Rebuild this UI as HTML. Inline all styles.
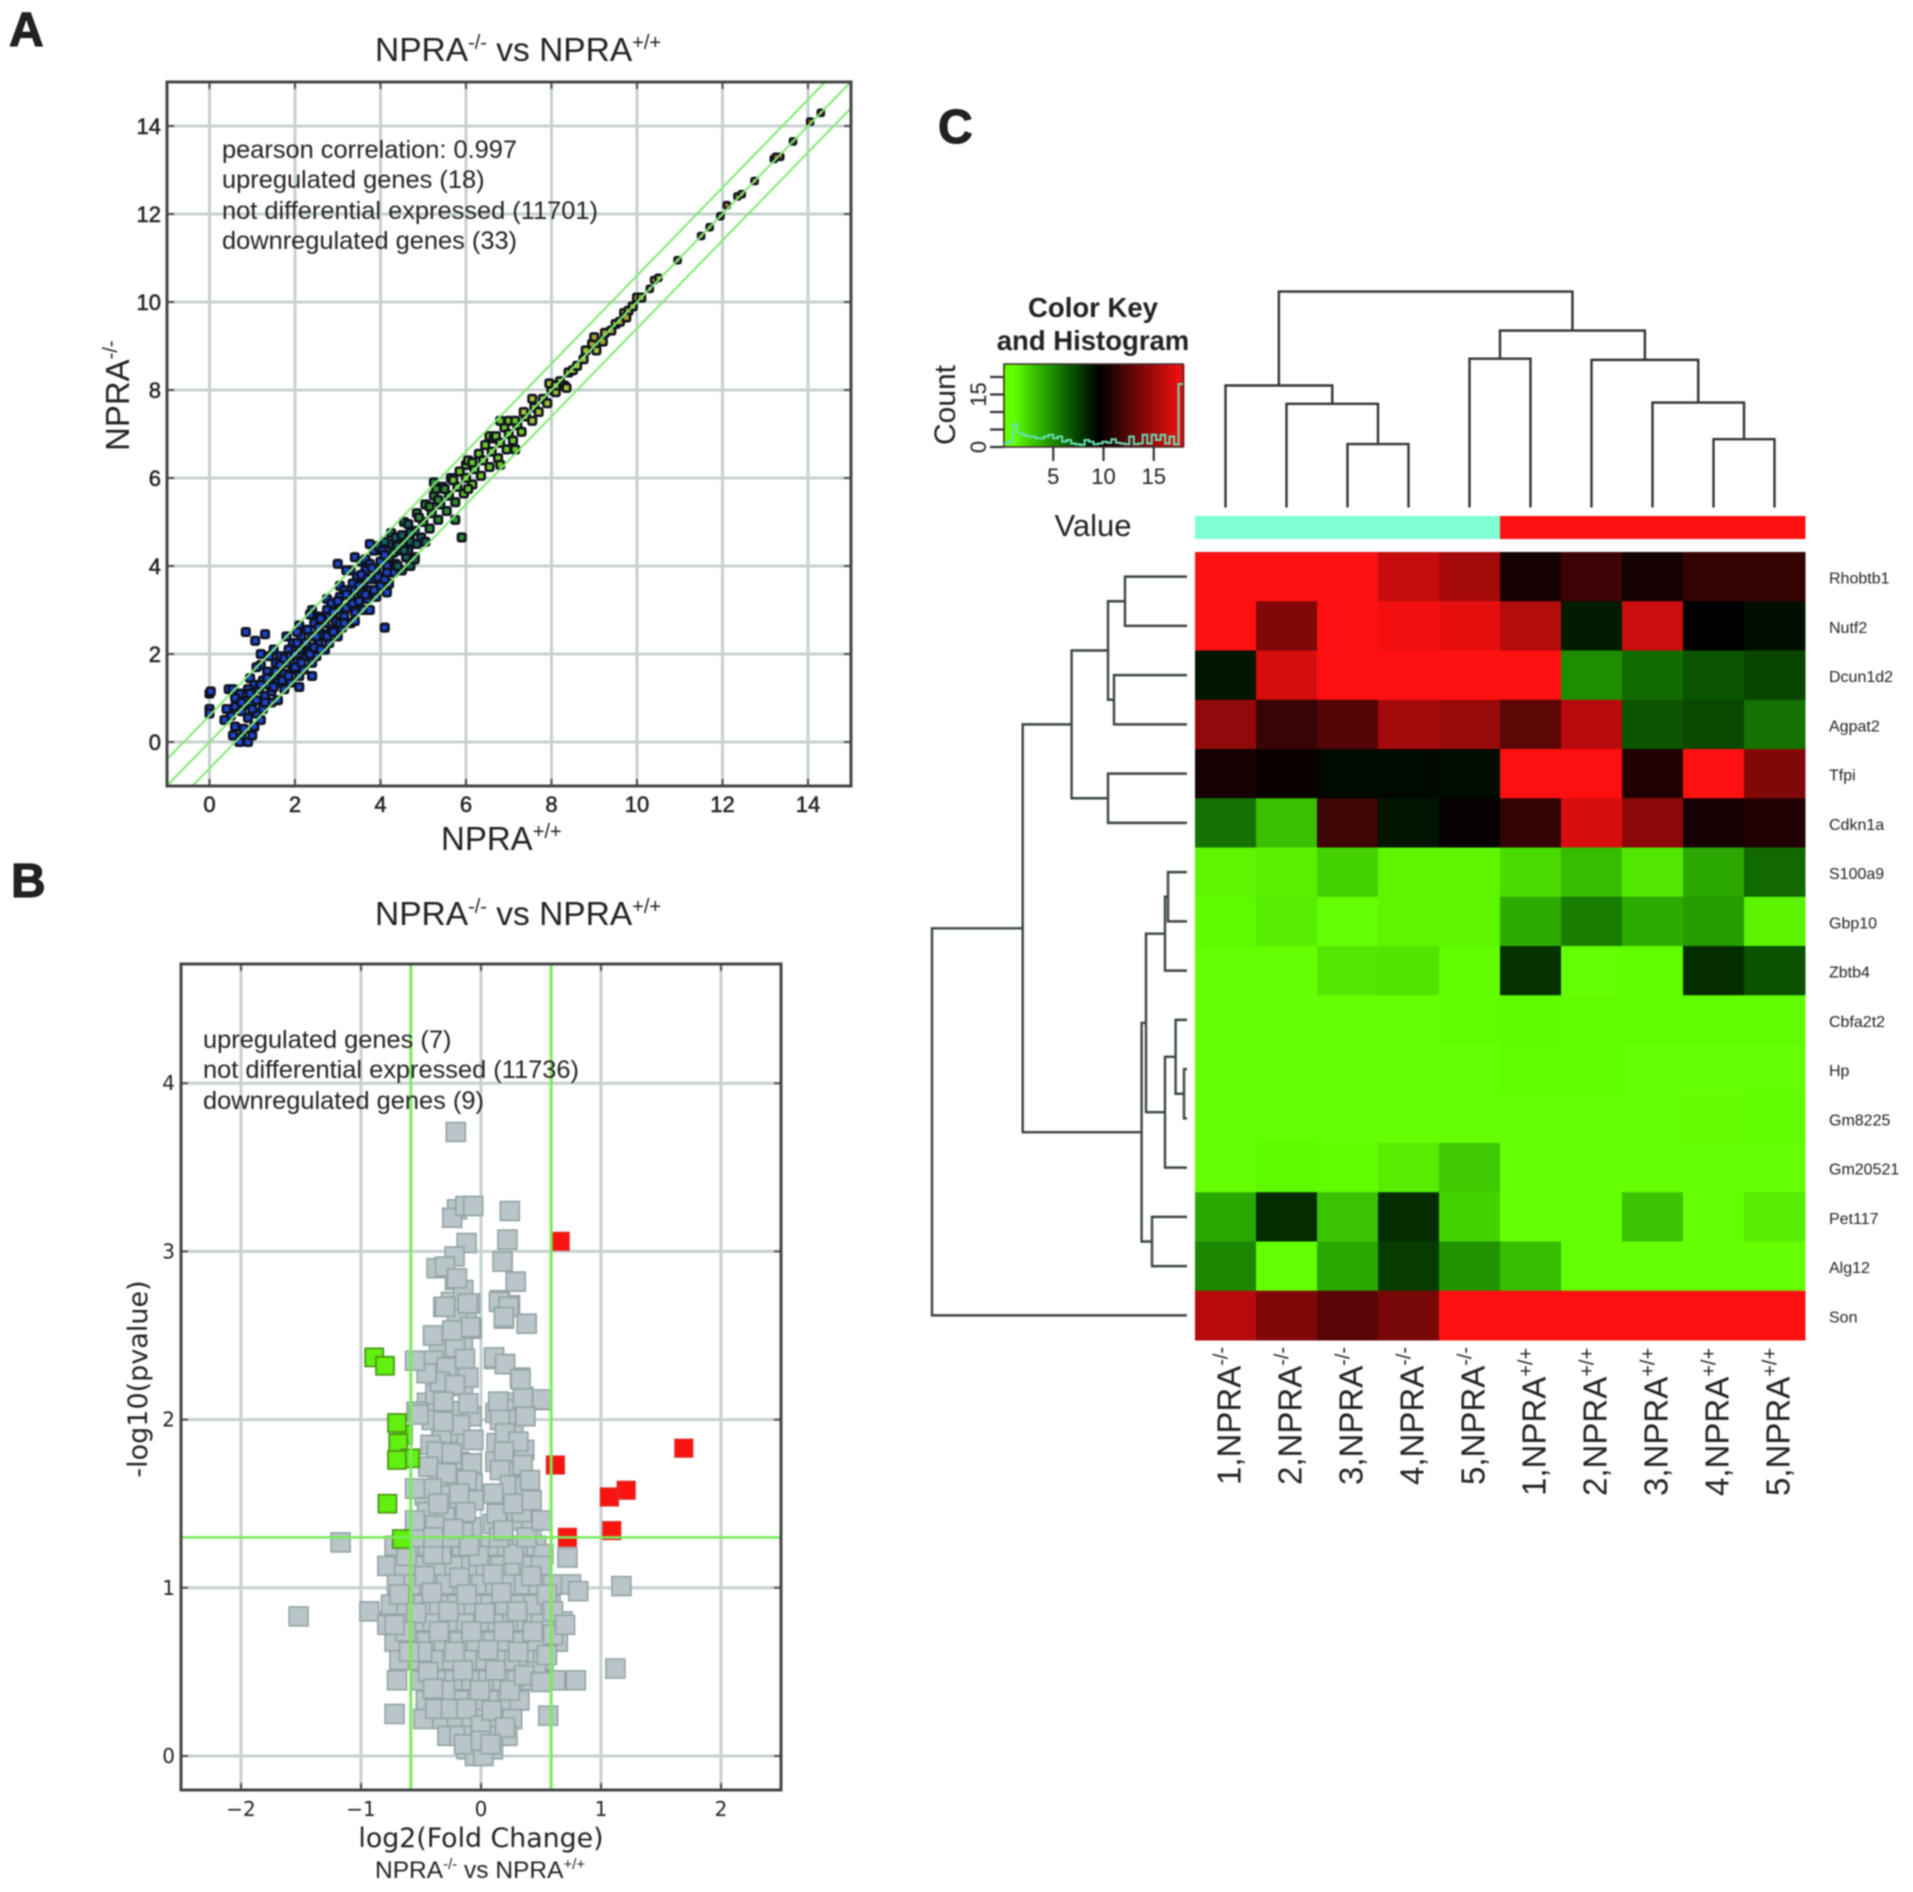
<!DOCTYPE html>
<html>
<head>
<meta charset="utf-8">
<title>NPRA expression figure</title>
<style>
html,body{margin:0;padding:0;background:#fff;width:1913px;height:1892px;overflow:hidden}
svg{display:block;filter:blur(0.8px)}
text{font-family:"Liberation Sans",sans-serif;fill:#222}
.dj{font-family:"DejaVu Sans",sans-serif}
</style>
</head>
<body>
<svg id="fig" xmlns="http://www.w3.org/2000/svg" width="1913" height="1892" viewBox="0 0 1913 1892">
<defs>
<clipPath id="clipA"><rect x="167" y="82" width="684" height="704"/></clipPath>
<clipPath id="clipB"><rect x="181" y="964" width="600" height="826"/></clipPath>
</defs>
<g id="panelA"></g>
<g id="panelB"></g>
<g id="panelC"></g>

<text x="9" y="46" font-size="48" font-weight="bold" fill="#111" stroke="#111" stroke-width="1">A</text>
<text x="11" y="897" font-size="48" font-weight="bold" fill="#111" stroke="#111" stroke-width="1">B</text>
<text x="938" y="143" font-size="48" font-weight="bold" fill="#111" stroke="#111" stroke-width="1">C</text>

<text x="375" y="61" font-size="33.5">NPRA<tspan font-size="20" dy="-12">-/-</tspan><tspan dy="12"> vs NPRA</tspan><tspan font-size="20" dy="-12">+/+</tspan></text>
<text x="441" y="850" font-size="33">NPRA<tspan font-size="20" dy="-12">+/+</tspan></text>
<text transform="translate(129,451) rotate(-90)" font-size="33">NPRA<tspan font-size="20" dy="-12">-/-</tspan></text>
<g font-size="25.4">
<text x="222" y="158">pearson correlation: 0.997</text>
<text x="222" y="188">upregulated genes (18)</text>
<text x="222" y="219">not differential expressed (11701)</text>
<text x="222" y="249">downregulated genes (33)</text>
</g>

<text x="375" y="925" font-size="33.5">NPRA<tspan font-size="20" dy="-12">-/-</tspan><tspan dy="12"> vs NPRA</tspan><tspan font-size="20" dy="-12">+/+</tspan></text>
<text class="dj" x="481" y="1847" font-size="26.8" text-anchor="middle">log2(Fold Change)</text>
<text x="375" y="1878" font-size="24.5">NPRA<tspan font-size="15" dy="-9">-/-</tspan><tspan dy="9"> vs NPRA</tspan><tspan font-size="15" dy="-9">+/+</tspan></text>
<text class="dj" transform="translate(147,1379) rotate(-90)" font-size="27" text-anchor="middle">-log10(pvalue)</text>
<g font-size="25.4">
<text x="203" y="1048">upregulated genes (7)</text>
<text x="203" y="1078">not differential expressed (11736)</text>
<text x="203" y="1109">downregulated genes (9)</text>
</g>

<text x="1093" y="317" font-size="27.5" font-weight="bold" text-anchor="middle">Color Key</text>
<text x="1093" y="350" font-size="27.5" font-weight="bold" text-anchor="middle">and Histogram</text>
<text transform="translate(955,405) rotate(-90)" font-size="30" text-anchor="middle">Count</text>
<text x="1093" y="536" font-size="31" text-anchor="middle">Value</text>
</svg>

<script>
/* ---------- Panel A data: [NPRA+/+, NPRA-/-] ---------- */
const scatterOutliers = [[0,1.1],[0.03,1.15],[0,0.75],[0,0.65],[0.45,1.2],[0.55,1.2],[0.85,2.5],[1.3,2.45],[1.07,2.3],[1.2,2.0],[3.0,4.05],[3.2,3.9],[4.1,2.6],[3.75,3.0],[4.15,3.4],[5.25,5.9],[5.3,5.75],[5.75,5.05],[5.9,4.65],[6.8,7.3],[7.15,6.65],[6.8,6.3],[8.35,8.05],[4.8,4.15],[4.1,4.55],[3.75,4.5]];
const scatterLowBand = [[0.5,0.6],[0.6,0.35],[0.75,0.1],[0.55,0.15],[0.9,0],[0.7,0],[0.35,0.5],[0.6,0.8],[0.4,0.75],
[0.7,1.1],[0.85,0.95],[0.95,0.85],[1.1,0.65],[1.05,0.35],[0.9,0.55],[0.8,0.3],[0.75,0.7],[0.6,1.0],[1.0,0.15],
[0.95,1.45],[1.05,1.3],[1.15,1.2],[1.3,1.05],[1.45,0.9],[1.25,0.75],[1.1,0.95],[0.9,1.2],[1.2,0.5],
[1.2,1.75],[1.35,1.6],[1.5,1.5],[1.6,1.35],[1.75,1.2],[1.6,0.95],[1.45,1.15],[1.25,1.4],[1.1,1.7],
[1.5,2.1],[1.65,1.95],[1.8,1.8],[1.95,1.65],[2.1,1.5],[1.9,1.35],[1.75,1.55],[1.55,1.8],[1.4,1.95],
[1.8,2.4],[1.95,2.25],[2.1,2.1],[2.25,1.95],[2.4,1.8],[2.2,1.65],[2.05,1.85],[1.85,2.1],[2.4,1.5],[2.1,1.25],
[2.1,2.65],[2.25,2.55],[2.4,2.4],[2.55,2.25],[2.7,2.1],[2.5,1.95],[2.35,2.15],[2.15,2.4],[2.05,2.5],
[2.4,3.0],[2.55,2.85],[2.7,2.7],[2.85,2.55],[3.0,2.4],[2.8,2.25],[2.65,2.45],[2.45,2.7],[2.35,2.9],
[2.75,3.25],[2.85,3.15],[3.0,3.0],[3.15,2.85],[3.3,2.7],[3.1,2.6],[2.95,2.75],[2.75,3.0],[3.4,2.75],
[3.05,3.55],[3.15,3.45],[3.3,3.3],[3.45,3.15],[3.6,3.0],[3.4,2.95],[3.25,3.05],[3.05,3.3],
[3.3,3.9],[3.45,3.75],[3.6,3.6],[3.75,3.45],[3.9,3.3],[3.7,3.25],[3.55,3.4],[3.35,3.6],[3.4,4.2],[3.55,4.1],
[3.65,4.15],[3.75,4.05],[3.9,3.9],[4.05,3.75],[4.2,3.6],[4.0,3.55],[3.85,3.7],[3.65,3.9],[3.85,4.35],[4.0,4.4],
[3.95,4.45],[4.05,4.35],[4.2,4.2],[4.35,4.05],[4.5,3.9],[4.3,3.85],[4.15,4.0],[4.2,4.5],[4.7,4.0],
[4.25,4.75],[4.35,4.65],[4.5,4.5],[4.65,4.35],[4.8,4.2],[4.6,4.2],[4.45,4.35],
[4.55,5.0],[4.65,4.95],[4.8,4.8],[4.95,4.65],[5.05,4.55]];
const scatterFillBand = [[0.75,0.9],[0.95,1.1],[1.0,0.75],[1.2,1.3],[1.3,0.9],[1.4,1.3],[1.35,1.45],[1.5,1.25],[1.55,1.6],[1.7,1.4],[1.65,1.75],[1.85,1.5],[1.75,1.9],[1.9,1.95],[2.0,1.7],[2.0,2.0],[2.15,1.8],[2.05,2.25],[2.3,2.05],[2.25,2.25],[2.35,2.0],[2.45,2.15],[2.3,2.55],[2.5,2.4],[2.6,2.1],[2.55,2.6],[2.75,2.4],[2.6,2.8],[2.8,2.85],[2.9,2.5],[2.9,2.95],[3.05,2.7],[3.0,3.2],[3.2,3.05],[3.15,2.7],[3.2,3.35],[3.35,3.15],[3.5,3.2],[3.4,3.45],[3.5,3.55],[3.65,3.35],[3.55,3.8],[3.7,3.7],[3.85,3.45],[3.8,3.95],[3.95,3.75],[4.1,3.7],[4.0,4.1],[4.15,3.85],[4.1,4.25],[4.3,4.3],[4.4,4.0],[4.4,4.45],[4.55,4.35],[4.5,4.7],[4.7,4.55],[4.7,4.75],[4.85,4.5]];
const scatterMidBand = [[4.85,5.2],[5.0,5.0],[5.15,4.85],[4.9,5.1],[5.05,5.4],[5.2,5.2],[5.35,5.05],[5.15,5.35],[5.25,5.6],[5.4,5.4],[5.55,5.25],[5.35,5.5],
[5.45,5.8],[5.6,5.6],[5.75,5.45],[5.5,5.75],[5.65,6.0],[5.8,5.8],[5.95,5.65],[5.7,5.95],[5.85,6.15],[6.0,6.0],[6.15,5.85],[6.0,6.3],[6.05,5.75],
[6.05,6.4],[6.2,6.2],[6.35,6.05],[6.15,6.35],[6.3,6.55],[6.4,6.4],[6.55,6.25],[6.45,6.75],[6.6,6.6],[6.75,6.45],[6.55,6.95],[6.65,6.9],
[6.7,6.95],[6.8,6.8],[6.95,6.65],[6.9,7.15],[7.0,7.0],[7.1,6.85],[7.0,7.3]];
const scatterHighBand = [[7.2,7.2],[7.15,7.3],[7.3,7.05],[7.4,7.4],[7.35,7.5],[7.55,7.3],[7.6,7.6],[7.55,7.8],[7.7,7.5],[7.8,7.8],[7.9,7.7],[8.0,8.0],[7.95,8.15],[8.1,7.95],[8.2,8.2],[8.1,8.1],[8.3,8.1],[8.4,8.4],[8.5,8.45],[8.6,8.55],[8.75,8.7],[8.8,8.9],[8.95,9.05],[9.0,9.2],[9.05,8.9],[9.2,9.1],[9.25,9.3],[9.4,9.35],[9.5,9.5],[9.6,9.55],[9.7,9.75],[9.8,9.8],[9.75,9.65],[9.9,9.9],
[10.0,10.1],[10.1,10.1],[10.3,10.3],[10.4,10.5],[10.5,10.55],[10.95,10.95],[11.5,11.5],[11.7,11.7],[11.95,11.95],[12.1,12.2],[12.35,12.4],[12.45,12.45],[12.75,12.75],[13.2,13.25],[13.35,13.3],[13.25,13.3],[13.65,13.65],[14.05,14.1],[14.3,14.3]];
const scatterXTicks = [0,2,4,6,8,10,12,14];
const scatterYTicks = [0,2,4,6,8,10,12,14];
const foldBands = [0.6,0,-0.6];

/* ---------- Panel B data: [log2 fold change, -log10 p] ---------- */
const volcanoUpper = [[-0.21,3.71],[-0.2,3.25],[-0.24,3.2],[-0.13,3.27],[-0.065,3.27],[0.24,3.24],[0.22,3.07],[-0.12,3.05],[-0.22,2.97],[0.18,2.94],[-0.37,2.9],[-0.3,2.91],[-0.2,2.84],[0.29,2.82],[-0.3,2.67],[-0.11,2.69],[0.15,2.7],[0.23,2.67],[0.19,2.61],[0.38,2.57],[-0.09,2.55],[-0.24,2.53],[-0.4,2.5],[0.11,2.37],[0.2,2.33],[-0.55,2.35],[0.51,2.12],[0.37,2.02],[0.35,2.13],[0.33,2.24],[-0.52,2.03]];
const volcanoFillHigh = [[-0.25,2.7],[-0.17,2.66],[-0.3,2.45],[-0.12,2.6],[-0.2,2.6],[-0.15,2.46],[-0.35,2.42],[-0.3,2.2],[-0.45,2.1],[-0.38,2.15],[-0.25,2.25],[-0.15,2.2],[-0.2,2.05],[-0.08,2.02],[-0.25,1.92],[-0.33,1.9],[-0.12,1.88],[-0.42,1.85],[-0.18,1.75],[-0.33,1.75],[-0.07,1.62],[-0.22,1.65],[-0.36,1.65],[-0.47,1.55],[-0.28,1.55],[-0.06,1.52],[-0.18,1.45],[-0.45,1.45],[-0.3,1.42],[-0.08,1.36],[-0.49,1.33],[-0.15,1.33],
[0.28,2.1],[0.2,2.06],[0.26,2.0],[0.12,2.04],[0.27,1.92],[0.13,1.86],[0.28,1.78],[0.12,1.75],[0.36,1.82],[0.28,1.68],[0.2,1.55],[0.4,1.5],[0.3,1.4],[0.1,1.38],[0.42,1.36]];
const volcanoBodyHigh = [[-0.347,2.9],[-0.217,2.83],[-0.147,2.77],[-0.314,2.67],[-0.092,2.69],[-0.231,2.53],[-0.078,2.54],[-0.397,2.5],[-0.217,2.43],[-0.537,2.35],[-0.397,2.35],[-0.286,2.31],[-0.133,2.36],[-0.106,2.25],[-0.342,2.225],[-0.217,2.206],[-0.453,2.275],[-0.314,2.107],[-0.106,2.097],[-0.537,2.047],[-0.175,1.968],[-0.411,1.998],[-0.314,1.988],[-0.064,1.879],[-0.369,1.81],[-0.244,1.8],[-0.078,1.74],[-0.44,1.72],[-0.286,1.68],[-0.119,1.64],[-0.411,1.59],[-0.181,1.56],[-0.55,1.59],[-0.356,1.5],[-0.128,1.45],[-0.55,1.4],[-0.383,1.37],[-0.231,1.35],[-0.397,1.3],
[0.181,2.94],[0.289,2.82],[0.158,2.71],[0.242,2.68],[0.192,2.6],[0.381,2.57],[0.108,2.36],[0.2,2.33],[0.325,2.25],[0.144,2.107],[0.353,2.136],[0.506,2.116],[0.367,2.027],[0.158,1.998],[0.2,1.918],[0.311,1.869],[0.192,1.81],[0.347,1.73],[0.158,1.7],[0.242,1.61],[0.367,1.6],[0.103,1.56],[0.408,1.64],[0.131,1.44],[0.339,1.45],[0.506,1.4],[0.269,1.5],[0.186,1.34],[0.422,1.52]];
const volcanoBodyMid = [[-0.72,1.25],[-0.58,1.25],[-0.44,1.25],[-0.3,1.25],[-0.16,1.25],[-0.03,1.25],[0.08,1.25],[0.22,1.25],[0.34,1.25],[0.46,1.25],[0.52,1.2],
[-0.78,1.13],[-0.64,1.13],[-0.5,1.13],[-0.36,1.13],[-0.22,1.13],[-0.08,1.13],[0.04,1.13],[0.16,1.13],[0.28,1.13],[0.4,1.13],[0.5,1.13],
[-0.7,1.02],[-0.56,1.02],[-0.43,1.02],[-0.29,1.02],[-0.15,1.02],[0,1.02],[0.12,1.02],[0.24,1.02],[0.36,1.02],[0.48,1.02],[0.6,1.02],
[-0.75,0.9],[-0.62,0.9],[-0.48,0.9],[-0.35,0.9],[-0.2,0.9],[-0.06,0.9],[0.08,0.9],[0.2,0.9],[0.32,0.9],[0.44,0.9],[0.58,0.9]];
const volcanoBodyLow = [[-0.76,0.8],[-0.67,0.8],[-0.53,0.8],[-0.4,0.8],[-0.26,0.8],[-0.12,0.8],[0.02,0.8],[0.14,0.8],[0.26,0.8],[0.38,0.8],[0.5,0.8],[0.68,0.8],
[-0.72,0.68],[-0.58,0.68],[-0.45,0.68],[-0.31,0.68],[-0.18,0.68],[-0.04,0.68],[0.1,0.68],[0.22,0.68],[0.34,0.68],[0.47,0.68],[0.64,0.68],
[-0.68,0.57],[-0.52,0.57],[-0.38,0.57],[-0.24,0.57],[-0.1,0.57],[0.04,0.57],[0.16,0.57],[0.28,0.57],[0.4,0.57],[0.52,0.57],
[-0.7,0.45],[-0.5,0.45],[-0.36,0.45],[-0.22,0.45],[-0.08,0.45],[0.06,0.45],[0.18,0.45],[0.3,0.45],[0.42,0.45],[0.62,0.45],
[-0.46,0.33],[-0.3,0.33],[-0.16,0.33],[-0.03,0.33],[0.1,0.33],[0.22,0.33],[0.32,0.33],
[-0.48,0.22],[-0.32,0.22],[-0.2,0.22],[-0.08,0.22],[0.04,0.22],[0.14,0.22],[0.26,0.22],[0.56,0.24],
[-0.28,0.12],[-0.18,0.12],[-0.06,0.12],[0.05,0.12],[0.15,0.12],[0.22,0.12],[-0.12,0.04],[-0.03,0.04],[0.04,0.04],[0.1,0.04],[-0.05,0],[0.02,0]];
const volcanoBodyOverlay = [[-0.62,1.19],[-0.47,1.07],[-0.33,1.2],[-0.18,1.06],[-0.02,1.19],[0.1,1.08],[0.27,1.2],[0.42,1.07],[0.55,0.96],[-0.68,0.96],[-0.54,0.85],[-0.41,0.97],[-0.27,0.86],[-0.12,0.96],[0.03,0.85],[0.17,0.97],[0.3,0.86],[0.43,0.74],[0.6,0.86],[-0.63,0.74],[-0.49,0.62],[-0.35,0.74],[-0.22,0.62],[-0.08,0.74],[0.06,0.63],[0.19,0.74],[0.31,0.62],[0.46,0.5],[-0.6,0.62],[-0.44,0.5],[-0.3,0.39],[-0.15,0.51],[-0.01,0.39],[0.12,0.51],[0.24,0.39],[0.36,0.48],[-0.38,0.28],[-0.25,0.28],[-0.12,0.28],[0,0.18],[0.09,0.27],[0.2,0.17],[-0.14,0.07],[0,0.09],[0.08,0.07],[-0.4,0.4],[0.5,0.44],[0.55,0.6],[0.6,0.72],[0.38,1.3],[0.15,1.3],[-0.25,1.3],[-0.55,1.3],[-0.4,1.2],[-0.1,1.25]];
const volcanoOutliers = [[-1.17,1.27],[-1.52,0.83],[-0.93,0.86],[-0.78,0.78],[-0.72,0.78],[-0.72,0.25],[0.72,1.18],[0.75,1.02],[0.81,0.98],[1.17,1.01],[1.12,0.52],[0.79,0.45],[0.7,0.78]];
const volcanoUp = [[0.66,3.06],[1.69,1.83],[0.62,1.73],[1.21,1.58],[1.07,1.54],[1.09,1.34],[0.72,1.3]];
const volcanoDown = [[-0.89,2.37],[-0.8,2.32],[-0.65,1.91],[-0.69,1.86],[-0.7,1.98],[-0.59,1.77],[-0.7,1.76],[-0.78,1.5],[-0.66,1.29]];
const volcanoXTicks = [-2,-1,0,1,2];
const volcanoYTicks = [0,1,2,3,4];
const foldThreshold = [-0.585,0.585];
const pThreshold = [1.3];

/* ---------- Panel C data ---------- */
const sampleNames = ["1,NPRA","2,NPRA","3,NPRA","4,NPRA","5,NPRA","1,NPRA","2,NPRA","3,NPRA","4,NPRA","5,NPRA"];
const sampleGroups = ["-/-","-/-","-/-","-/-","-/-","+/+","+/+","+/+","+/+","+/+"];
const geneNames = ["Rhobtb1","Nutf2","Dcun1d2","Agpat2","Tfpi","Cdkn1a","S100a9","Gbp10","Zbtb4","Cbfa2t2","Hp","Gm8225","Gm20521","Pet117","Alg12","Son"];
const heatRhobtb1 = [18,18,18,16.1,15,10.2,11.5,10.2,11.2,11.2];
const heatNutf2 = [18,13.8,18,17.6,17.2,15.5,8.6,16.3,9.5,9.0];
const heatDcun1d2 = [8.8,16.6,18,18,18,18,4.8,5.9,6.7,7.2];
const heatAgpat2 = [14.4,11.4,12.3,15,14.6,12.6,15.6,6.7,7.1,5.7];
const heatTfpi = [10.2,9.9,9.2,9.2,9.1,18,18,10.6,18,13.8];
const heatCdkn1a = [5.7,3.1,11.6,8.8,9.7,11.2,16.7,14.2,10.2,10.6];
const heatS100a9 = [1.3,1.5,2.5,1.3,1.3,2.2,3.2,1.8,3.9,6.0];
const heatGbp10 = [1.2,1.6,1.0,1.3,1.3,3.8,5.3,3.8,4.3,1.4];
const heatZbtb4 = [1,1,1.8,1.9,1.1,7.8,1,1.1,8.0,6.8];
const heatCbfa2t2 = [1,1,1,1,1.1,1.2,1.1,1.1,1.1,1.1];
const heatHp = [1,1,1,1,1,1.1,1.1,1,1,1];
const heatGm8225 = [1,1,1,1,1,1,1,1,1.05,1.1];
const heatGm20521 = [1,1.2,1.1,1.6,2.8,1,1,1,1,1];
const heatPet117 = [3.9,8.0,3.0,8.0,2.5,1,1,3,1,1.6];
const heatAlg12 = [5,1.0,3.9,7.5,4.6,3.2,1,1,1,1];
const heatSon = [15.6,13.8,12.5,13.5,18,18,18,18,18,18];
const heatMatrix = [heatRhobtb1,heatNutf2,heatDcun1d2,heatAgpat2,heatTfpi,heatCdkn1a,heatS100a9,heatGbp10,heatZbtb4,heatCbfa2t2,heatHp,heatGm8225,heatGm20521,heatPet117,heatAlg12,heatSon];
/* merges: [childA, childB, height]; child < leaves = leaf index, otherwise merge index + leaves */
const colMerges = [[2,3,52],[1,10,85],[0,11,100],[4,5,122],[8,9,56],[7,14,86],[6,15,121],[13,16,145],[12,17,177]];
const rowMerges = [[0,1,62],[2,3,73],[16,17,79],[4,5,79],[18,19,115.4],[6,7,19],[21,8,22],[10,11,3],[9,23,11.4],[24,12,22],[22,25,41],[13,14,35],[26,27,45.4],[20,28,164.3],[29,15,255]];
const histCounts = [1,1.5,6.5,4,3.5,3,3,2.5,2.5,3,3.5,2.5,3,1.5,2,1,0.8,0.6,2,1.5,0.8,1,1.5,1.2,2.2,1.2,1,0.8,3,0.8,1,3.5,1,3.5,2,3.5,1,3,0.7,18];
const keyXTicks = [5,10,15];
const keyYTicks = [0,5,10,15,20];
const keyYLabels = [0,15];

/* ---------- helpers ---------- */
const NS = 'http://www.w3.org/2000/svg';
function mk(parent, tag, attrs){
  const e = document.createElementNS(NS, tag);
  for (const k in attrs) e.setAttribute(k, attrs[k]);
  parent.appendChild(e);
  return e;
}

/* ---------- Panel A ---------- */
const pa = document.getElementById('panelA');
const ax = v => 209.5 + v * 42.75;
const ay = v => 742 - v * 44;
function scatterFill(v){
  if (v < 4.2) return '#1c44cc';
  if (v < 5) return '#17605a';
  if (v < 5.8) return '#2f8f30';
  if (v < 7.3) return '#6fc828';
  if (v < 9) return '#a8c030';
  if (v < 11) return '#a8a030';
  if (v < 13) return '#a87a2a';
  return '#b05020';
}
for (const t of scatterXTicks) {
  const g = mk(pa, 'line', {x1:ax(t),x2:ax(t),y1:82,y2:786,stroke:'#c6d0d0','stroke-width':3});
  
  
  const m = mk(pa, 'path', {d:`M${ax(t)} 82v7M${ax(t)} 786v-7`,stroke:'#555','stroke-width':2});
  
  
  const l = mk(pa, 'text', {x:ax(t),y:812,'font-size':22,'text-anchor':'middle',stroke:'#222','stroke-width':0.5});
  l.textContent = t;
  
  
}
for (const t of scatterYTicks) {
  const g = mk(pa, 'line', {x1:167,x2:851,y1:ay(t),y2:ay(t),stroke:'#c6d0d0','stroke-width':3});
  
  
  const m = mk(pa, 'path', {d:`M167 ${ay(t)}h7M851 ${ay(t)}h-7`,stroke:'#555','stroke-width':2});
  
  
  const l = mk(pa, 'text', {x:161,y:ay(t)+8,'font-size':22,'text-anchor':'end',stroke:'#222','stroke-width':0.5});
  l.textContent = t;
  
  
}
const scatterGroup = mk(pa, 'g', {'clip-path':'url(#clipA)'});


for (const series of [scatterLowBand, scatterFillBand, scatterMidBand, scatterHighBand, scatterOutliers]) {
  for (const p of series) {
    const mean = (p[0] + p[1]) / 2;
    const side = mean > 10.2 ? 6 : 7.5;
    const r = mk(scatterGroup, 'rect', {x:ax(p[0])-side/2,y:ay(p[1])-side/2,width:side,height:side,rx:1.5,fill:scatterFill(mean),stroke:'#0e121e','stroke-width':2.6});
    
    
  }
}
for (const d of foldBands) {
  const l = mk(scatterGroup, 'line', {x1:ax(-1),y1:ay(-1+d),x2:ax(15),y2:ay(15+d),stroke:'#7fec70','stroke-width':2});
  
  
}
const frameA = mk(pa, 'rect', {x:167,y:82,width:684,height:704,fill:'none',stroke:'#444','stroke-width':3});



/* ---------- Panel B ---------- */
const pb = document.getElementById('panelB');
const bx = v => 481 + v * 120;
const by = v => 1756 - v * 168.2;
for (const t of volcanoXTicks) {
  const g = mk(pb, 'line', {x1:bx(t),x2:bx(t),y1:964,y2:1790,stroke:'#c6d0d0','stroke-width':3});
  
  
  const m = mk(pb, 'path', {d:`M${bx(t)} 964v7M${bx(t)} 1790v-7`,stroke:'#555','stroke-width':2});
  
  
  const l = mk(pb, 'text', {x:bx(t),y:1816,'font-size':20,'text-anchor':'middle','class':'dj'});
  l.textContent = t < 0 ? '\u2212' + (-t) : t;
  
  
}
for (const t of volcanoYTicks) {
  const g = mk(pb, 'line', {x1:181,x2:781,y1:by(t),y2:by(t),stroke:'#c6d0d0','stroke-width':3});
  
  
  const m = mk(pb, 'path', {d:`M181 ${by(t)}h7M781 ${by(t)}h-7`,stroke:'#555','stroke-width':2});
  
  
  const l = mk(pb, 'text', {x:175,y:by(t)+7,'font-size':20,'text-anchor':'end','class':'dj'});
  l.textContent = t;
  
  
}
const volcanoGroup = mk(pb, 'g', {'clip-path':'url(#clipB)'});


for (const series of [volcanoBodyLow, volcanoBodyMid, volcanoFillHigh, volcanoBodyOverlay, volcanoBodyHigh, volcanoUpper, volcanoOutliers]) {
  for (const p of series) {
    const r = mk(volcanoGroup, 'rect', {x:bx(p[0])-9.5,y:by(p[1])-9.5,width:19,height:19,fill:'#b9c5c8',stroke:'#93a3a5','stroke-width':1.6});
    
    
  }
}
for (const p of volcanoDown) {
  const r = mk(volcanoGroup, 'rect', {x:bx(p[0])-9,y:by(p[1])-9,width:18,height:18,fill:'#62f010',stroke:'#4a9a14','stroke-width':1.8});
  
  
}
for (const p of volcanoUp) {
  const r = mk(volcanoGroup, 'rect', {x:bx(p[0])-9,y:by(p[1])-9,width:18,height:18,fill:'#fa1410',stroke:'#d8302a','stroke-width':1.2});
  
  
}
for (const t of foldThreshold) {
  const l = mk(volcanoGroup, 'line', {x1:bx(t),x2:bx(t),y1:964,y2:1790,stroke:'#78ec5a','stroke-width':3});
  
  
}
for (const t of pThreshold) {
  const l = mk(volcanoGroup, 'line', {x1:181,x2:781,y1:by(t),y2:by(t),stroke:'#78ec5a','stroke-width':2.5});
  
  
}
const frameB = mk(pb, 'rect', {x:181,y:964,width:600,height:826,fill:'none',stroke:'#444','stroke-width':3});



/* ---------- Panel C ---------- */
const pc = document.getElementById('panelC');
const hLeft = 1195, hTop = 552, cellW = 61, cellH = 49.25;
function heatColor(v){
  const mid = 9.5, span = 8.5;
  let t;
  if (v <= mid) {
    t = Math.min(1, (mid - v) / span);
    return `rgb(${Math.round(100*t*t)},${Math.round(255*t)},0)`;
  }
  t = Math.min(1, (v - mid) / span);
  return `rgb(${Math.round(255*t)},${Math.round(16*t)},${Math.round(16*t)})`;
}
heatMatrix.forEach((row, i) => {
  row.forEach((v, j) => {
    const c = mk(pc, 'rect', {x:hLeft+j*cellW,y:hTop+i*cellH,width:cellW+0.5,height:cellH+0.5,fill:heatColor(v)});
    
    
  });
});
geneNames.forEach((g, i) => {
  const l = mk(pc, 'text', {x:1829,y:hTop+(i+0.5)*cellH+7,'font-size':16,fill:'#2e3e3e'});
  l.textContent = g;
  
  
});
sampleNames.forEach((s, j) => {
  const cx = hLeft + (j + 0.5) * cellW;
  const yStart = sampleGroups[j] === '-/-' ? 1485 : 1496;
  const l = mk(pc, 'text', {transform:`translate(${cx+15},${yStart}) rotate(-90)`,'font-size':33});
  
  
  const a = mk(l, 'tspan', {});
  a.textContent = s;
  const b = mk(l, 'tspan', {'font-size':20,dy:-13});
  b.textContent = sampleGroups[j];
  const bar = mk(pc, 'rect', {x:hLeft+j*cellW,y:516,width:cellW+0.5,height:23,fill:sampleGroups[j] === '-/-' ? '#7fffd4' : '#ff1010'});
  
  
});

/* top dendrogram */
const colY = h => 507.5 - h * 1.22;
const colNodes = [];
sampleNames.forEach((s, j) => colNodes.push({p: hLeft + (j + 0.5) * cellW, y: 507.5}));
for (const m of colMerges) {
  const a = colNodes[m[0]], b = colNodes[m[1]], y = colY(m[2]);
  const d = mk(pc, 'path', {d:`M${a.p} ${a.y}V${y}H${b.p}V${b.y}`,fill:'none',stroke:'#333','stroke-width':2.4});
  
  
  colNodes.push({p: (a.p + b.p) / 2, y: y});
}

/* left dendrogram: heights are distances from leaf end */
const rowX = h => 1187 - h;
const rowNodes = [];
geneNames.forEach((g, i) => rowNodes.push({p: hTop + (i + 0.5) * cellH, x: 1187}));
for (const m of rowMerges) {
  const a = rowNodes[m[0]], b = rowNodes[m[1]], x = rowX(m[2]);
  const d = mk(pc, 'path', {d:`M${a.x} ${a.p}H${x}V${b.p}H${b.x}`,fill:'none',stroke:'#3a4444','stroke-width':2.4});
  
  
  rowNodes.push({p: (a.p + b.p) / 2, x: x});
}

/* colour key */
const kx = v => 1003 + v * 10.05;
const ky = v => 447 - v * 3.5;
for (let v = 0; v < 17.9; v += 0.2) {
  const s = mk(pc, 'rect', {x:kx(v),y:364,width:2.6,height:83,fill:heatColor(v < 1 ? 1 : v)});
  
  
}
const keyBox = mk(pc, 'rect', {x:1004,y:364,width:179,height:83,fill:'none',stroke:'#3a2a2a','stroke-width':1.5});


const binW = 179 / histCounts.length;
let histPath = '';
histCounts.forEach((c, i) => {
  histPath += (i === 0 ? 'M' : 'L') + (1004 + i * binW) + ' ' + ky(c) + 'L' + (1004 + (i + 1) * binW) + ' ' + ky(c);
});
const hist = mk(pc, 'path', {d:histPath,fill:'none',stroke:'#66e0b8','stroke-width':2});


for (const t of keyXTicks) {
  const m = mk(pc, 'line', {x1:kx(t),x2:kx(t),y1:447,y2:461,stroke:'#333','stroke-width':2.2});
  
  
  const l = mk(pc, 'text', {x:kx(t),y:484,'font-size':22,'text-anchor':'middle'});
  l.textContent = t;
  
  
}
for (const t of keyYTicks) {
  const m = mk(pc, 'line', {x1:990,x2:1004,y1:ky(t),y2:ky(t),stroke:'#333','stroke-width':2.2});
  
  
}
for (const t of keyYLabels) {
  const l = mk(pc, 'text', {transform:`translate(986,${ky(t)}) rotate(-90)`,'font-size':22,'text-anchor':'middle'});
  l.textContent = t;
  
  
}
</script>
</body>
</html>
